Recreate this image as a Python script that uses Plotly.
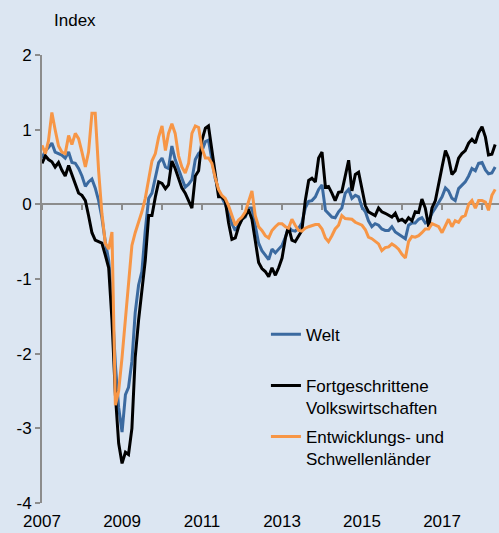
import pandas as pd
import plotly.graph_objects as go

# Monthly observations, Jan 2007 .. May 2018
months = pd.date_range("2007-01-01", periods=137, freq="MS")

welt = [
    0.62, 0.72, 0.76, 0.82, 0.70, 0.68, 0.66, 0.62, 0.70, 0.56, 0.55, 0.48,
    0.38, 0.24, 0.30, 0.34, 0.22, 0.05, -0.18, -0.50, -0.75, -1.30, -2.15, -2.72,
    -3.05, -2.55, -2.45, -2.10, -1.45, -1.08, -0.90, -0.35, 0.08, 0.15, 0.36, 0.56,
    0.62, 0.50, 0.48, 0.78, 0.60, 0.46, 0.35, 0.23, 0.27, 0.33, 0.60, 0.68,
    0.72, 0.84, 0.86, 0.60, 0.35, 0.18, 0.10, 0.00, -0.12, -0.26, -0.35, -0.27,
    -0.20, -0.17, -0.05, -0.05, -0.30, -0.52, -0.62, -0.68, -0.74, -0.60, -0.65, -0.60,
    -0.55, -0.44, -0.30, -0.35, -0.36, -0.32, -0.25, -0.05, 0.04, 0.05, 0.10, 0.20,
    0.26, -0.08, -0.12, -0.17, -0.18, -0.10, -0.05, 0.15, 0.20, 0.08, 0.12, 0.10,
    -0.04, -0.10, -0.22, -0.30, -0.26, -0.28, -0.33, -0.35, -0.35, -0.30, -0.37, -0.40,
    -0.42, -0.46, -0.28, -0.25, -0.25, -0.20, -0.18, -0.25, -0.22, -0.12, -0.05, 0.03,
    0.10, 0.22, 0.18, 0.08, 0.05, 0.21, 0.25, 0.30, 0.38, 0.48, 0.45, 0.55,
    0.56, 0.46, 0.41, 0.42, 0.50,
]

fortgeschritten = [
    0.55, 0.65, 0.60, 0.57, 0.50, 0.56, 0.46, 0.38, 0.52, 0.40, 0.27, 0.15,
    0.12, 0.05, -0.15, -0.38, -0.48, -0.50, -0.52, -0.68, -0.85, -1.55, -2.55, -3.20,
    -3.47, -3.32, -3.35, -3.00, -2.05, -1.55, -1.15, -0.75, -0.15, -0.15, 0.10, 0.30,
    0.28, 0.21, 0.26, 0.58, 0.48, 0.34, 0.22, 0.15, 0.05, -0.05, 0.38, 0.45,
    0.86, 1.02, 1.05, 0.75, 0.40, 0.10, 0.10, 0.05, -0.25, -0.47, -0.45, -0.30,
    -0.20, -0.15, -0.07, -0.20, -0.48, -0.78, -0.86, -0.90, -0.97, -0.85, -0.95, -0.85,
    -0.72, -0.45, -0.30, -0.48, -0.50, -0.42, -0.35, 0.05, 0.32, 0.35, 0.30, 0.62,
    0.70, 0.23, 0.24, 0.15, 0.05, 0.16, 0.17, 0.38, 0.59, 0.18, 0.40, 0.43,
    0.20, -0.02, -0.10, -0.12, -0.15, -0.05, -0.10, -0.12, -0.14, -0.17, -0.12, -0.22,
    -0.20, -0.24, -0.18, -0.22, -0.10, -0.11, 0.07, -0.05, -0.30, -0.05, 0.05, 0.30,
    0.50, 0.72, 0.62, 0.40, 0.45, 0.62, 0.68, 0.72, 0.82, 0.87, 0.82, 0.96,
    1.04, 0.90, 0.66, 0.67, 0.80,
]

entwicklung = [
    0.79, 0.68, 0.85, 1.23, 1.00, 0.78, 0.70, 0.68, 0.92, 0.80, 0.95, 0.88,
    0.70, 0.50, 0.70, 1.22, 1.22, 0.45, -0.12, -0.52, -0.60, -0.37, -2.69, -2.50,
    -2.05, -1.55, -1.05, -0.55, -0.38, -0.25, -0.10, 0.08, 0.35, 0.58, 0.68, 0.90,
    1.05, 0.72, 0.95, 1.08, 0.95, 0.65, 0.50, 0.42, 0.55, 0.95, 1.05, 1.03,
    0.75, 0.62, 0.62, 0.55, 0.36, 0.20, 0.12, 0.08, -0.02, -0.15, -0.28, -0.21,
    -0.17, -0.10, 0.05, 0.18, -0.15, -0.30, -0.35, -0.42, -0.45, -0.35, -0.30, -0.26,
    -0.26, -0.30, -0.32, -0.20, -0.28, -0.35, -0.36, -0.32, -0.30, -0.28, -0.27, -0.27,
    -0.33, -0.45, -0.50, -0.42, -0.33, -0.28, -0.15, -0.19, -0.20, -0.20, -0.24, -0.26,
    -0.28, -0.34, -0.44, -0.46, -0.50, -0.53, -0.62, -0.58, -0.57, -0.53, -0.56, -0.60,
    -0.67, -0.72, -0.50, -0.43, -0.44, -0.42, -0.38, -0.33, -0.33, -0.26, -0.28, -0.30,
    -0.38, -0.28, -0.20, -0.30, -0.22, -0.24, -0.17, -0.15, 0.00, 0.05, -0.05, 0.05,
    0.05, 0.03, -0.08, 0.12, 0.20,
]

series_names = [
    "Welt<br>\u00a0",
    "Fortgeschrittene<br>Volkswirtschaften",
    "Entwicklungs- und<br>Schwellenländer",
]
series_colors = ["#3b6aa0", "#000000", "#f79646"]

year_ticks = ["2007-01-01", "2009-01-01", "2011-01-01", "2013-01-01", "2015-01-01", "2017-01-01"]
year_labels = ["2007", "2009", "2011", "2013", "2015", "2017"]
y_ticks = [-4, -3, -2, -1, 0, 1, 2]
y_labels = ["-4", "-3", "-2", "-1", "0", "1", "2"]

BG = "#dce6f2"
AX = "#8c8c8c"
FONT = "Liberation Sans, Arial, sans-serif"

fig = go.Figure()
for i, (vals, name, col) in enumerate(zip([welt, fortgeschritten, entwicklung], series_names, series_colors)):
    fig.add_trace(go.Scatter(
        x=months, y=vals, mode="lines", name=name,
        line=dict(color=col, width=3),
        legendgroup=str(i),
        xaxis="x2" if i == 2 else "x",
        hoverinfo="skip",
    ))

x_range = ["2007-01-01", "2018-06-05"]

fig.update_layout(
    width=499, height=533,
    margin=dict(l=42, r=0, t=55, b=30),
    paper_bgcolor=BG, plot_bgcolor=BG,
    font=dict(family=FONT, size=17, color="#000000"),
    showlegend=True,
    legend=dict(
        x=0.49, y=0.416, xanchor="left", yanchor="top",
        bgcolor="rgba(0,0,0,0)", valign="top", tracegroupgap=4,
        font=dict(family=FONT, size=17, color="#000000"),
    ),
    xaxis=dict(
        type="date", range=x_range, anchor="free", position=4 / 6,
        showline=True, linecolor=AX, linewidth=2,
        ticks="outside", ticklen=5, tickwidth=2, tickcolor=AX,
        tick0="2007-01-01", dtick="M12",
        showticklabels=False, showgrid=False, zeroline=False,
        layer="below traces",
    ),
    xaxis2=dict(
        type="date", overlaying="x", matches="x", anchor="y", side="bottom",
        showline=False, ticks="", tickmode="array",
        tickvals=year_ticks, ticktext=year_labels,
        showgrid=False, zeroline=False,
        tickfont=dict(family=FONT, size=17, color="#000000"),
        ticklabelstandoff=6,
    ),
    yaxis=dict(
        range=[-4, 2], anchor="x",
        showline=True, linecolor=AX, linewidth=2,
        ticks="outside", ticklen=5, tickwidth=2, tickcolor=AX,
        tickmode="array", tickvals=y_ticks, ticktext=y_labels,
        showgrid=False, zeroline=False,
        tickfont=dict(family=FONT, size=17, color="#000000"),
        layer="below traces",
    ),
    annotations=[dict(
        text="Index", xref="paper", yref="paper", x=0.022, y=1.078,
        xanchor="left", yanchor="middle", showarrow=False,
        font=dict(family=FONT, size=17, color="#000000"),
    )],
)

fig.write_html(
    "out.html",
    config={"displayModeBar": False},
    post_script="document.body.style.margin='0';document.body.style.overflow='hidden';",
)
